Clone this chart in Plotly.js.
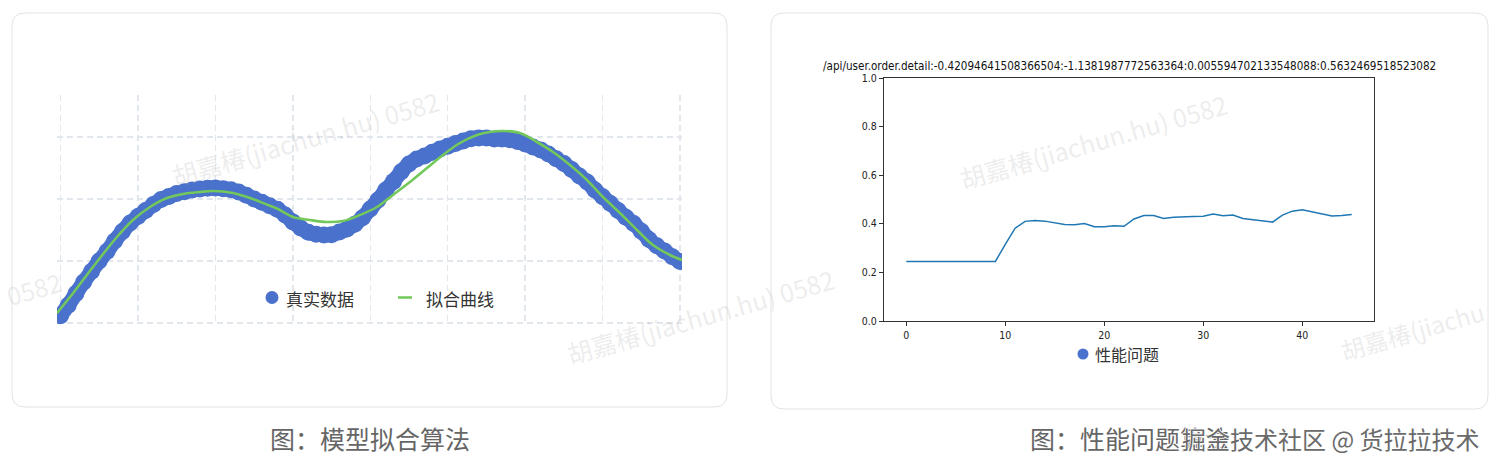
<!DOCTYPE html>
<html>
<head>
<meta charset="utf-8">
<script src="https://cdn.plot.ly/plotly-3.0.1.min.js"></script>
<style>
  html, body { margin: 0; padding: 0; background: #ffffff; }
  #chart { width: 1500px; height: 466px; }
</style>
</head>
<body>
<div id="chart"></div>
<script>
// ---------- Left panel: 模型拟合算法 (grid units, no tick labels) ----------
const realX = [0,1,2,3,4,5,6,7,8,9,10,11,12,13,14,15,16,17,18,19,20,21,22,23,24,25,26,27,28,29,30,31,32,33,34,35,36,37,38,39,40,41,42,43,44,45,46,47,48,49,50,51,52,53,54,55,56,57,58,59,60,61,62,63,64,65,66,67,68,69,70,71,72,73,74,75,76,77,78,79,80];
const realY = [1.19,2.87,4.76,6.61,8.31,10.0,11.53,13.23,14.76,16.13,17.18,18.15,19.11,19.92,20.40,20.89,21.18,21.45,21.61,21.74,21.77,21.65,21.48,21.13,20.60,20.0,19.47,18.92,18.34,17.42,16.31,15.32,14.65,14.32,14.19,14.24,14.66,15.16,15.92,16.98,18.39,19.84,21.45,22.84,24.40,25.65,26.45,26.94,27.53,28.06,28.50,28.94,29.35,29.73,29.84,29.84,29.69,29.68,29.56,29.29,28.87,28.39,27.92,27.26,26.48,25.73,24.76,23.71,22.74,21.45,20.35,19.29,18.16,17.06,16.05,14.81,13.48,12.45,11.60,10.69,9.92];
const fitX = [-0.45,1.23,2.91,5.10,7.29,9.36,11.56,13.75,15.82,18.01,19.69,22.28,24.47,26.79,27.95,30.02,32.21,34.41,36.47,38.67,40.87,42.93,45.12,47.32,49.39,51.58,53.78,55.46,57.13,59.33,61.52,63.59,65.78,67.98,70.05,72.24,74.44,76.50,78.70,80.25];
const fitY = [1.61,4.19,6.94,10.48,13.87,16.61,18.71,20.16,20.81,21.13,21.29,20.97,20.16,19.03,18.47,17.10,16.61,16.29,16.45,17.42,18.71,20.65,22.74,25.0,27.10,29.03,30.32,30.81,30.97,30.65,29.19,27.58,25.48,23.06,20.32,17.74,15.0,12.58,10.97,10.16];
const leftLegend = ["真实数据", "拟合曲线"];
const leftCaption = "图：模型拟合算法";

// ---------- Right panel: 性能问题 ----------
const perfX = [0,1,2,3,4,5,6,7,8,9,10,11,12,13,14,15,16,17,18,19,20,21,22,23,24,25,26,27,28,29,30,31,32,33,34,35,36,37,38,39,40,41,42,43,44,45];
const perfY = [0.245,0.245,0.245,0.246,0.245,0.244,0.244,0.244,0.244,0.245,0.315,0.382,0.410,0.414,0.411,0.405,0.397,0.396,0.401,0.388,0.388,0.392,0.390,0.420,0.434,0.434,0.422,0.427,0.427,0.430,0.431,0.440,0.433,0.436,0.422,0.416,0.411,0.407,0.436,0.452,0.458,0.449,0.441,0.432,0.434,0.438];
const perfTitle = "/api/user.order.detail:-0.42094641508366504:-1.1381987772563364:0.005594702133548088:0.5632469518523082";
const perfXTicks = [0,10,20,30,40];
const perfYTicks = [0.0,0.2,0.4,0.6,0.8,1.0];
const perfLegend = "性能问题";
const rightCaption = "图：性能问题算法";
const siteMark = "掘金技术社区 @ 货拉拉技术";
const watermark = "胡嘉椿(jiachun.hu) 0582";
const watermarkTail = "0582";
const watermarkHead = "胡嘉椿(jiachu";

// ---------- helpers (pixel -> paper) ----------
const W = 1500, H = 466;
const PX = p => p / W;
const PY = p => 1 - p / H;
function rr(x0, y0, x1, y1, r) {
  const X = p => PX(p).toFixed(5), Y = p => PY(p).toFixed(5);
  return `M${X(x0+r)},${Y(y0)} L${X(x1-r)},${Y(y0)} Q${X(x1)},${Y(y0)} ${X(x1)},${Y(y0+r)} ` +
         `L${X(x1)},${Y(y1-r)} Q${X(x1)},${Y(y1)} ${X(x1-r)},${Y(y1)} ` +
         `L${X(x0+r)},${Y(y1)} Q${X(x0)},${Y(y1)} ${X(x0)},${Y(y1-r)} ` +
         `L${X(x0)},${Y(y0+r)} Q${X(x0)},${Y(y0)} ${X(x0+r)},${Y(y0)} Z`;
}

const CJK = '"Noto Sans CJK SC", "Noto Sans", sans-serif';
const NARROW = '"Liberation Sans Narrow", "DejaVu Sans Condensed", "Liberation Sans", sans-serif';
const BLUE = '#4a71cc';
const GREEN = '#72c85a';

const traces = [
  { type: 'scatter', mode: 'lines+markers', name: leftLegend[0], x: realX, y: realY,
    xaxis: 'x', yaxis: 'y', showlegend: false, hoverinfo: 'skip',
    line: { color: BLUE, width: 15, shape: 'spline', smoothing: 0.6 },
    marker: { color: BLUE, size: 17, line: { width: 0 } } },
  { type: 'scatter', mode: 'lines', name: leftLegend[1], x: fitX, y: fitY,
    xaxis: 'x', yaxis: 'y', showlegend: false, hoverinfo: 'skip',
    line: { color: GREEN, width: 2.6, shape: 'spline', smoothing: 1 } },
  { type: 'scatter', mode: 'lines', name: perfLegend, x: perfX, y: perfY,
    xaxis: 'x2', yaxis: 'y2', showlegend: false, hoverinfo: 'skip',
    line: { color: '#1f77b4', width: 1.5 } }
];

const shapes = [
  { type: 'path', xref: 'paper', yref: 'paper', layer: 'below', path: rr(12, 13, 727, 407, 13),
    fillcolor: '#ffffff', line: { color: '#e3e3e3', width: 1 } },
  { type: 'path', xref: 'paper', yref: 'paper', layer: 'below', path: rr(771, 13, 1488, 409, 13),
    fillcolor: '#ffffff', line: { color: '#e3e3e3', width: 1 } },
  // left legend symbols
  { type: 'circle', xref: 'paper', yref: 'paper', x0: PX(265.5), x1: PX(278.5), y0: PY(304), y1: PY(291),
    fillcolor: BLUE, line: { width: 0 } },
  { type: 'line', xref: 'paper', yref: 'paper', x0: PX(398), x1: PX(412), y0: PY(297.5), y1: PY(297.5),
    line: { color: GREEN, width: 2.5 } },
  // right legend symbol
  { type: 'circle', xref: 'paper', yref: 'paper', x0: PX(1077.5), x1: PX(1088.5), y0: PY(359.5), y1: PY(348.5),
    fillcolor: BLUE, line: { width: 0 } }
];

const wmColor = 'rgba(185,185,185,0.26)';
const wm = (cx, cy, txt, size) => ({ xref: 'paper', yref: 'paper', x: PX(cx), y: PY(cy),
  xanchor: 'center', yanchor: 'middle',
  text: txt, showarrow: false, textangle: -16, font: { family: CJK, size: size || 25, color: wmColor } });

const annotations = [
  // left legend
  { xref: 'paper', yref: 'paper', x: PX(284), y: PY(298), xanchor: 'left', yanchor: 'middle', showarrow: false,
    text: leftLegend[0], font: { family: CJK, size: 17, color: '#333333' } },
  { xref: 'paper', yref: 'paper', x: PX(424), y: PY(298), xanchor: 'left', yanchor: 'middle', showarrow: false,
    text: leftLegend[1], font: { family: CJK, size: 17, color: '#333333' } },
  // right title
  { xref: 'paper', yref: 'paper', x: PX(1129), y: PY(66), xanchor: 'center', yanchor: 'middle', showarrow: false,
    text: perfTitle, font: { family: NARROW, size: 11.6, color: '#111111' } },
  // right legend
  { xref: 'paper', yref: 'paper', x: PX(1093), y: PY(354), xanchor: 'left', yanchor: 'middle', showarrow: false,
    text: perfLegend, font: { family: CJK, size: 16, color: '#333333' } },
  // captions
  { xref: 'paper', yref: 'paper', x: PX(370), y: PY(438), xanchor: 'center', yanchor: 'middle', showarrow: false,
    text: leftCaption, font: { family: CJK, size: 25, color: '#666666' } },
  { xref: 'paper', yref: 'paper', x: PX(1130), y: PY(438), xanchor: 'center', yanchor: 'middle', showarrow: false,
    text: rightCaption, font: { family: CJK, size: 25, color: '#666666' } },
  { xref: 'paper', yref: 'paper', x: PX(1330), y: PY(438), xanchor: 'center', yanchor: 'middle', showarrow: false,
    text: siteMark, font: { family: CJK, size: 24, color: '#6a6a6a',
      shadow: '1px 0 0 rgba(255,255,255,0.9), -1px 0 0 rgba(255,255,255,0.9), 0 1px 0 rgba(255,255,255,0.9), 0 -1px 0 rgba(255,255,255,0.9)' } },
  // watermarks
  wm(305, 138, watermark), wm(1093, 141, watermark), wm(700, 316, watermark),
  wm(34, 288, watermarkTail), wm(1412, 330, watermarkHead, 24)
];

const gridCol = '#e2e7ed';
const layout = {
  width: W, height: H,
  margin: { l: 0, r: 0, t: 0, b: 0 },
  paper_bgcolor: '#ffffff',
  plot_bgcolor: 'rgba(0,0,0,0)',
  showlegend: false,
  xaxis: { domain: [PX(57), PX(682)], range: [-0.45, 80.25], tick0: 0, dtick: 10,
    showticklabels: false, ticks: '', zeroline: false, showline: false,
    showgrid: true, gridcolor: gridCol, gridwidth: 1.4, griddash: '6px,4px', fixedrange: true },
  yaxis: { domain: [1 - 325 / H, 1 - 95 / H], range: [-0.32, 36.77], tick0: 0, dtick: 10,
    showticklabels: false, ticks: '', zeroline: false, showline: false,
    showgrid: true, gridcolor: gridCol, gridwidth: 1.4, griddash: '6px,4px', fixedrange: true },
  xaxis2: { domain: [PX(884), PX(1374)], range: [-2.25, 47.25], anchor: 'y2',
    tickmode: 'array', tickvals: perfXTicks, ticktext: perfXTicks.map(String),
    ticks: 'outside', ticklen: 4, tickwidth: 1, tickcolor: '#333333',
    showline: true, mirror: true, linecolor: '#333333', linewidth: 1,
    showgrid: false, zeroline: false,
    tickfont: { family: NARROW, size: 10.5, color: '#222222' }, fixedrange: true },
  yaxis2: { domain: [1 - 321 / H, 1 - 78 / H], range: [0, 1], anchor: 'x2',
    tickmode: 'array', tickvals: perfYTicks, ticktext: perfYTicks.map(v => v.toFixed(1)),
    ticks: 'outside', ticklen: 4, tickwidth: 1, tickcolor: '#333333',
    showline: true, mirror: true, linecolor: '#333333', linewidth: 1,
    showgrid: false, zeroline: false,
    tickfont: { family: NARROW, size: 10.5, color: '#222222' }, fixedrange: true },
  shapes: shapes,
  annotations: annotations
};

Plotly.newPlot('chart', traces, layout, { staticPlot: true, displayModeBar: false });
</script>
</body>
</html>
